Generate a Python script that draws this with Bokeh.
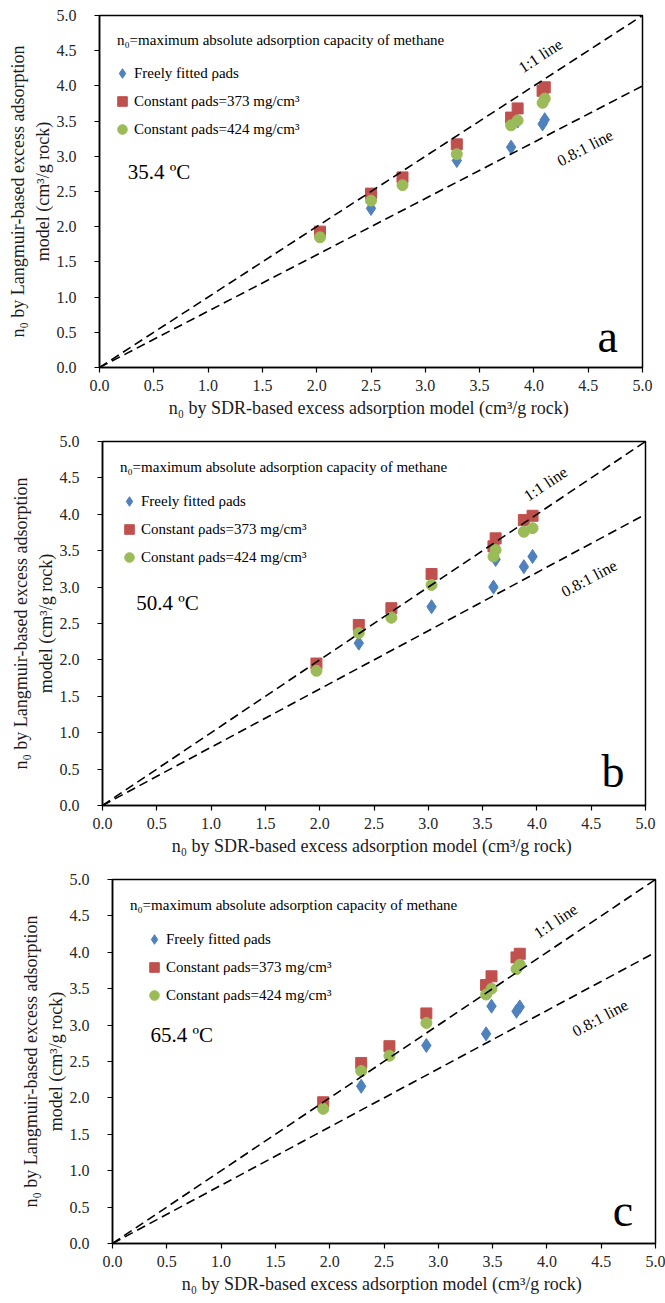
import math
from bokeh.plotting import figure
from bokeh.layouts import column
from bokeh.models import Label, Legend, LegendItem, Slope, Range1d, FixedTicker, NumeralTickFormatter, Title
from bokeh.embed import file_html
from bokeh.resources import INLINE

# ---------------- data ----------------
temperatures = ["35.4 ºC", "50.4 ºC", "65.4 ºC"]
panel_letters = ["a", "b", "c"]
series_names = ["Freely fitted ρads", "Constant ρads=373 mg/cm³", "Constant ρads=424 mg/cm³"]
ref_ratios = [1.0, 0.8]
ref_names = ["1:1 line", "0.8:1 line"]
ticks = [0.0, 0.5, 1.0, 1.5, 2.0, 2.5, 3.0, 3.5, 4.0, 4.5, 5.0]
x_title = "n₀ by SDR-based excess adsorption model  (cm³/g rock)"
y_title_lines = ["n₀ by Langmuir-based excess adsorption", "model (cm³/g rock)"]
note = "n₀=maximum absolute adsorption capacity of methane"

sdr_a = [2.03, 2.50, 2.79, 3.29, 3.79, 3.85, 4.08, 4.10]
free_a = [1.88, 2.26, 2.62, 2.94, 3.13, 3.50, 3.46, 3.52]
c373_a = [1.93, 2.47, 2.70, 3.17, 3.55, 3.68, 3.93, 3.98]
c424_a = [1.85, 2.37, 2.59, 3.03, 3.44, 3.51, 3.76, 3.82]

sdr_b = [1.97, 2.36, 2.66, 3.03, 3.60, 3.62, 3.88, 3.96]
free_b = [1.88, 2.23, 2.60, 2.73, 3.00, 3.38, 3.28, 3.42]
c373_b = [1.95, 2.48, 2.71, 3.18, 3.56, 3.67, 3.92, 3.98]
c424_b = [1.85, 2.37, 2.58, 3.03, 3.42, 3.51, 3.76, 3.81]

sdr_c = [1.94, 2.29, 2.55, 2.89, 3.44, 3.49, 3.72, 3.75]
free_c = [1.88, 2.16, 2.60, 2.72, 2.88, 3.26, 3.19, 3.25]
c373_c = [1.94, 2.48, 2.71, 3.16, 3.55, 3.67, 3.93, 3.98]
c424_c = [1.85, 2.37, 2.58, 3.03, 3.42, 3.50, 3.77, 3.83]

FONT = "Liberation Serif"
BLUE = "#4F81BD"
RED = "#C0504D"
GREEN = "#9BBB59"

panels = [
    dict(sdr=sdr_a, free=free_a, c373=c373_a, c424=c424_a, h=434, left=99, right=23, top=15, fh=352,
         legx=23, tx=0.26, ty=2.77, lab1=(4.06, 4.43), lab2=(4.47, 3.12), let=(4.68, 0.44)),
    dict(sdr=sdr_b, free=free_b, c373=c373_b, c424=c424_b, h=434, left=102, right=20, top=7, fh=364,
         legx=27, tx=0.31, ty=2.78, lab1=(4.08, 4.42), lab2=(4.48, 3.12), let=(4.70, 0.47)),
    dict(sdr=sdr_c, free=free_c, c373=c373_c, c424=c424_c, h=435, left=112, right=10, top=11, fh=364,
         legx=42, tx=0.35, ty=2.87, lab1=(4.08, 4.43), lab2=(4.49, 3.10), let=(4.70, 0.46)),
]

LEG_ROW = 24
LEG_GAP = 4
figs = []
for i, pn in enumerate(panels):
    fw = 665 - pn["left"] - pn["right"]
    fh = pn["fh"]
    p = figure(width=665, height=pn["h"],
               x_range=Range1d(0, 5), y_range=Range1d(0, 5),
               output_backend="svg", toolbar_location=None,
               min_border_left=pn["left"], min_border_right=pn["right"],
               min_border_top=pn["top"], min_border_bottom=pn["h"] - fh - pn["top"])
    if "frame_align" in p.properties():
        p.frame_align = False
    p.background_fill_color = "white"
    p.border_fill_color = "white"
    p.xgrid.visible = False
    p.ygrid.visible = False
    p.outline_line_color = "black"
    p.outline_line_width = 1.5
    p.outline_line_alpha = 1.0
    for ax in (p.xaxis[0], p.yaxis[0]):
        ax.ticker = FixedTicker(ticks=ticks)
        ax.formatter = NumeralTickFormatter(format="0.0")
        ax.axis_line_color = "black"
        ax.axis_line_width = 1.5
        ax.major_tick_line_color = "black"
        ax.major_tick_line_width = 1.2
        ax.major_tick_out = 5
        ax.major_tick_in = 0
        ax.minor_tick_line_color = None
        ax.major_label_text_font = FONT
        ax.major_label_text_font_size = "16px"
        ax.major_label_text_color = "#262626"
        ax.axis_label_text_font = FONT
        ax.axis_label_text_font_size = "18px"
        ax.axis_label_text_font_style = "normal"
        ax.axis_label_text_color = "#1a1a1a"
    p.xaxis.axis_label = x_title
    p.xaxis.major_label_standoff = 7
    p.yaxis.major_label_standoff = 18
    p.xaxis.axis_label_standoff = 4

    # y-axis title: two stacked left-side titles (inner line first)
    for txt, so in ((y_title_lines[1], 2), (y_title_lines[0], 4)):
        p.add_layout(Title(text=txt, align="center", standoff=so,
                           text_font=FONT, text_font_size="18px", text_font_style="normal",
                           text_color="#1a1a1a"), "left")

    for r in ref_ratios:
        p.add_layout(Slope(gradient=r, y_intercept=0, line_color="black", line_width=1.6, line_dash="9 5"))

    r_free = p.scatter(pn["sdr"], pn["free"], marker="diamond", size=14, color=BLUE)
    r_373 = p.scatter(pn["sdr"], pn["c373"], marker="square", size=11, color=RED)
    r_424 = p.scatter(pn["sdr"], pn["c424"], marker="circle", size=11, color=GREEN)

    ppu = fh / 5.0
    first_row_center = (5 - 4.18) * ppu
    leg_top = first_row_center - LEG_ROW / 2
    leg_h = 3 * LEG_ROW + 2 * LEG_GAP
    leg_y = fh - leg_top - leg_h
    legend = Legend(items=[LegendItem(label=series_names[0], renderers=[r_free]),
                           LegendItem(label=series_names[1], renderers=[r_373]),
                           LegendItem(label=series_names[2], renderers=[r_424])],
                    location=(pn["legx"] - LEG_ROW // 2, int(round(leg_y))), orientation="vertical",
                    label_text_font=FONT, label_text_font_size="15px", label_text_color="black",
                    label_standoff=-4, glyph_width=LEG_ROW, glyph_height=LEG_ROW, label_height=LEG_ROW,
                    spacing=LEG_GAP, padding=0, margin=0,
                    border_line_alpha=0, background_fill_alpha=0)
    p.add_layout(legend, "center")

    p.add_layout(Label(x=0.16, y=4.65, text=note,
                       text_font=FONT, text_font_size="15px", text_color="black",
                       text_baseline="middle", text_align="left"))
    p.add_layout(Label(x=pn["tx"], y=pn["ty"], text=temperatures[i],
                       text_font=FONT, text_font_size="21px", text_color="black",
                       text_baseline="middle", text_align="left"))
    ang1 = math.atan(fh / fw)
    ang2 = math.atan(0.8 * fh / fw)
    p.add_layout(Label(x=pn["lab1"][0], y=pn["lab1"][1], text=ref_names[0], angle=ang1,
                       text_font=FONT, text_font_size="16px", text_color="black",
                       text_baseline="middle", text_align="center"))
    p.add_layout(Label(x=pn["lab2"][0], y=pn["lab2"][1], text=ref_names[1], angle=ang2,
                       text_font=FONT, text_font_size="16px", text_color="black",
                       text_baseline="middle", text_align="center"))
    p.add_layout(Label(x=pn["let"][0], y=pn["let"][1], text=panel_letters[i],
                       text_font=FONT, text_font_size="46px", text_color="black",
                       text_baseline="middle", text_align="center"))
    figs.append(p)

layout = column(*figs, spacing=0)
open("out.html", "w").write(file_html(layout, INLINE))
